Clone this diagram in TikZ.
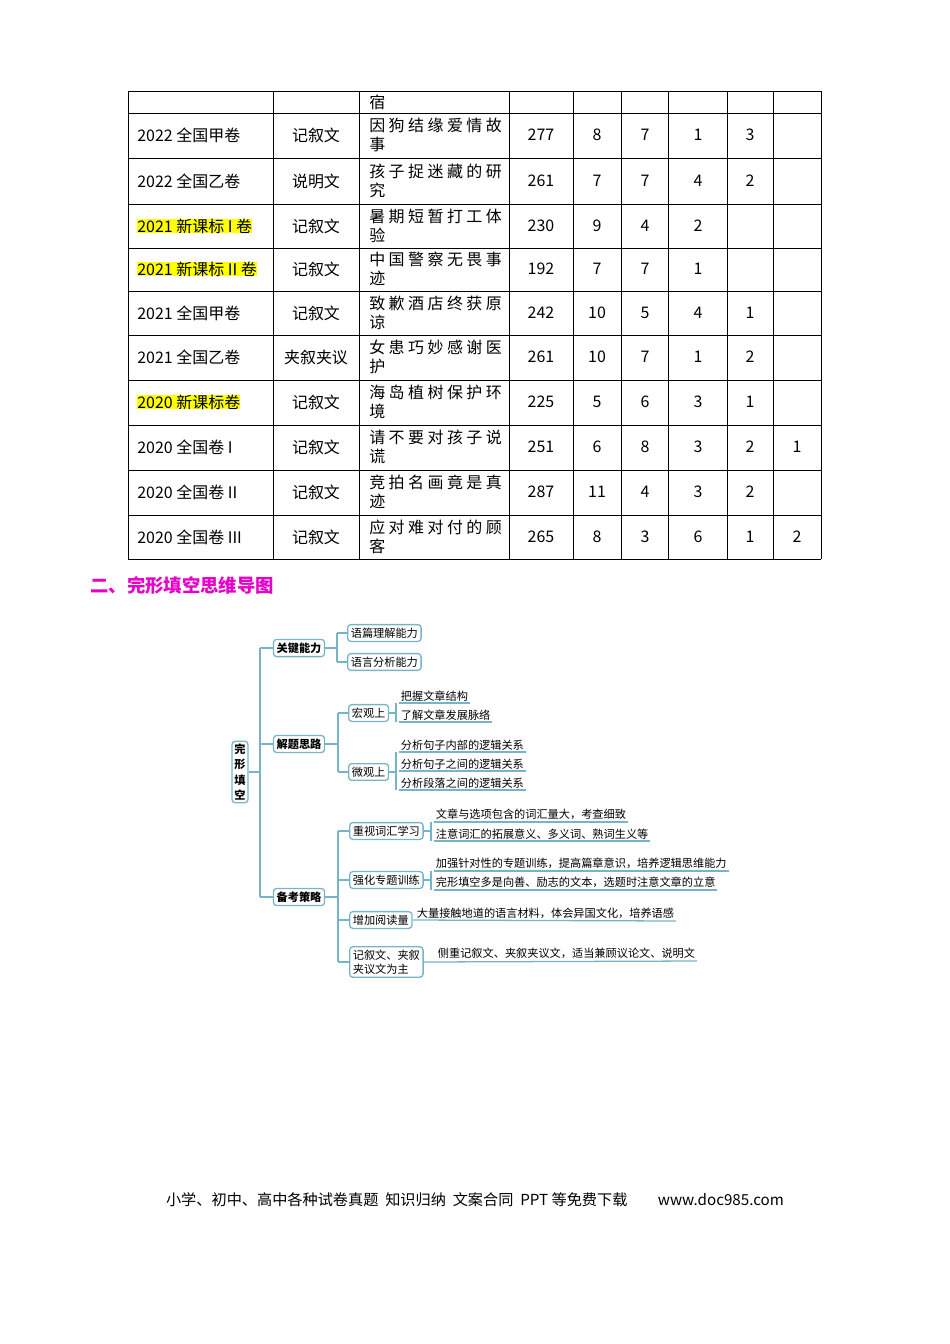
\documentclass[tikz,border=0pt]{standalone}
\usepackage{fontspec}
\setmainfont{Noto Sans CJK SC}
\usetikzlibrary{positioning}
\definecolor{mm_line}{RGB}{120, 180, 200}
\definecolor{mm_hl}{RGB}{255, 255, 0}
\definecolor{mm_head}{RGB}{230, 0, 200}
\tikzstyle{cell}=[inner sep=0pt,font=\fontsize{10}{12}\selectfont]
\tikzstyle{box}=[draw=mm_line,rounded corners=2pt,line width=0.8pt,fill=white,
  inner sep=2pt,font=\fontsize{7}{9}\selectfont]
\tikzstyle{leaf}=[inner sep=1pt,anchor=south west,font=\fontsize{7}{9}\selectfont]
\tikzstyle{wire}=[draw=mm_line,line width=0.8pt]
\newcommand{\jtext}[2]{\parbox{83pt}{\makebox[83pt][s]{#1}\\#2}}
\begin{document}
\begin{tikzpicture}[x=0.626pt,y=-0.626pt]
    \useasboundingbox (0,0) rectangle (950,1344);
    % table
    \foreach \cy/\ca/\cb/\cc/\cd/\ce/\cf/\cg/\ch/\ci/\hl in {
      135/2022 全国甲卷/记叙文/{\jtext{因 狗 结 缘 爱 情 故}{事}}/277/8/7/1/3//0,
      181/2022 全国乙卷/说明文/{\jtext{孩 子 捉 迷 藏 的 研}{究}}/261/7/7/4/2//0,
      226/2021 新课标 I 卷/记叙文/{\jtext{暑 期 短 暂 打 工 体}{验}}/230/9/4/2///1,
      269/2021 新课标 II 卷/记叙文/{\jtext{中 国 警 察 无 畏 事}{迹}}/192/7/7/1///1,
      313/2021 全国甲卷/记叙文/{\jtext{致 歉 酒 店 终 获 原}{谅}}/242/10/5/4/1//0,
      357/2021 全国乙卷/夹叙夹议/{\jtext{女 患 巧 妙 感 谢 医}{护}}/261/10/7/1/2//0,
      402/2020 新课标卷/记叙文/{\jtext{海 岛 植 树 保 护 环}{境}}/225/5/6/3/1//1,
      447/2020 全国卷 I/记叙文/{\jtext{请 不 要 对 孩 子 说}{谎}}/251/6/8/3/2/1/0,
      492/2020 全国卷 II/记叙文/{\jtext{竞 拍 名 画 竟 是 真}{迹}}/287/11/4/3/2//0,
      537/2020 全国卷 III/记叙文/{\jtext{应 对 难 对 付 的 顾}{客}}/265/8/3/6/1/2/0}{
      \ifnum\hl=1
        \node[cell,fill=mm_hl,anchor=west] (t\cy a) at (137,\cy) {\ca};
      \else
        \node[cell,anchor=west] (t\cy a) at (137,\cy) {\ca};
      \fi
      \node[cell] (t\cy b) at (316,\cy) {\cb};
      \node[cell,anchor=west] (t\cy c) at (369,\cy) {\cc};
      \node[cell] (t\cy d) at (541,\cy) {\cd};
      \node[cell] (t\cy e) at (597,\cy) {\ce};
      \node[cell] (t\cy f) at (645,\cy) {\cf};
      \node[cell] (t\cy g) at (698,\cy) {\cg};
      \node[cell] (t\cy h) at (750,\cy) {\ch};
      \node[cell] (t\cy i) at (797,\cy) {\ci};
    }
    \node[cell,anchor=west] (t0c) at (369,102) {宿};
    \foreach \y in {91,113,158,204,248,291,335,380,425,470,515,559}
      \draw[line width=0.5pt] (128,\y) -- (821,\y);
    \foreach \x in {128,273,359,509,573,621,668,727,773,821}
      \draw[line width=0.5pt] (\x,91) -- (\x,559);
    % heading
    \node[anchor=west,inner sep=0pt,text=mm_head,font=\fontsize{11.5}{13}\selectfont\bfseries] (head) at (90,585) {二、完形填空思维导图};
    % mind map
    \node[box,font=\fontsize{7}{8.5}\selectfont\bfseries,inner sep=1.5pt] (root) at (240,772) {\shortstack{完\\形\\填\\空}};
    \node[box,font=\fontsize{7}{9}\selectfont\bfseries] (k1) at (299,648) {关键能力};
    \node[box,font=\fontsize{7}{9}\selectfont\bfseries] (k2) at (299,744) {解题思路};
    \node[box,font=\fontsize{7}{9}\selectfont\bfseries] (k3) at (299,897) {备考策略};
    \node[box,anchor=west] (a1) at (347,633) {语篇理解能力};
    \node[box,anchor=west] (a2) at (347,662) {语言分析能力};
    \node[box,anchor=west] (b1) at (348,713) {宏观上};
    \node[box,anchor=west] (b2) at (348,772) {微观上};
    \node[box,anchor=west] (c1) at (349,831) {重视词汇学习};
    \node[box,anchor=west] (c2) at (349,880) {强化专题训练};
    \node[box,anchor=west] (c3) at (349,920) {增加阅读量};
    \node[box,anchor=west,align=left,font=\fontsize{7}{8.5}\selectfont] (c4) at (349,962) {记叙文、夹叙\\夹议文为主};
    % leaves
    \node[leaf] (l1) at (399,703) {把握文章结构};
    \node[leaf] (l2) at (399,722) {了解文章发展脉络};
    \node[leaf] (l3) at (399,752) {分析句子内部的逻辑关系};
    \node[leaf] (l4) at (399,771) {分析句子之间的逻辑关系};
    \node[leaf] (l5) at (399,790) {分析段落之间的逻辑关系};
    \node[leaf] (l6) at (434,822) {文章与选项包含的词汇量大，考查细致};
    \node[leaf] (l7) at (434,841) {注意词汇的拓展意义、多义词、熟词生义等};
    \node[leaf] (l8) at (434,871) {加强针对性的专题训练，提高篇章意识，培养逻辑思维能力};
    \node[leaf] (l9) at (434,890) {完形填空多是向善、励志的文本，选题时注意文章的立意};
    \node[leaf] (l10) at (415,921) {大量接触地道的语言材料，体会异国文化，培养语感};
    \node[leaf] (l11) at (436,961) {侧重记叙文、夹叙夹议文，适当兼顾议论文、说明文};
    \coordinate (j0) at (260,772);
    \draw[wire] (root.east) -- (j0);
    \draw[wire] (260,648) -- (260,897);
    \foreach \k in {k1,k2,k3} \draw[wire] (260,0 |- \k.west) -- (\k.west);
    \draw[wire] (k1.east) -- (337,648);
    \draw[wire] (337,633) -- (337,662);
    \foreach \k in {a1,a2} \draw[wire] (337,0 |- \k.west) -- (\k.west);
    \draw[wire] (k2.east) -- (338,744);
    \draw[wire] (338,713) -- (338,772);
    \foreach \k in {b1,b2} \draw[wire] (338,0 |- \k.west) -- (\k.west);
    \draw[wire] (k3.east) -- (338,897);
    \draw[wire] (338,831) -- (338,962);
    \foreach \k in {c1,c2,c3,c4} \draw[wire] (338,0 |- \k.west) -- (\k.west);
    % brackets and underlines
    \draw[wire] (b1.east) -- (396,713);
    \draw[wire] (396,703) -- (396,722);
    \draw[wire] (b2.east) -- (396,772);
    \draw[wire] (396,752) -- (396,790);
    \draw[wire] (c1.east) -- (431,831);
    \draw[wire] (431,822) -- (431,841);
    \draw[wire] (c2.east) -- (431,880);
    \draw[wire] (431,871) -- (431,890);
    \foreach \l in {l1,l2,l3,l4,l5,l6,l7,l8,l9}
      \draw[wire] (\l.south west) -- (\l.south east);
    \draw[wire] (c3.east) -- (l10.south east);
    \draw[wire] (c4.east) -- (l11.south east);
    % footer
    \node[inner sep=0pt,font=\fontsize{9.5}{11}\selectfont] (foot) at (475,1200) {小学、初中、高中各种试卷真题\ \ 知识归纳\ \ 文案合同\ \ PPT 等免费下载\qquad www.doc985.com};
\end{tikzpicture}
\end{document}
